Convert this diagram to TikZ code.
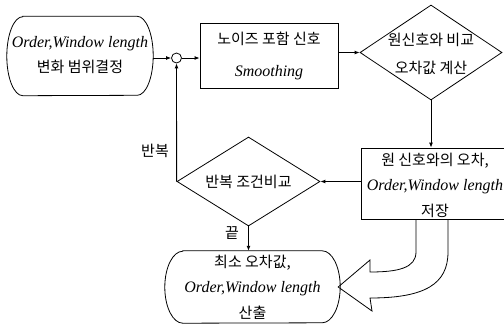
\documentclass[tikz,border=0pt]{standalone}
\usepackage{fontspec}
\setmainfont{Liberation Serif}
\newfontfamily\kr{Noto Sans CJK KR}
\newcommand{\K}[1]{{\kr\fontsize{15}{25}\selectfont #1}}
\newcommand{\Lt}[1]{{\itshape\fontsize{16}{25}\selectfont #1}}
\usetikzlibrary{shapes.geometric,arrows.meta}
\begin{document}
\begin{tikzpicture}[x=1pt,y=-1pt,
  shp/.style={draw,line width=0.8pt,inner sep=0pt},
  txt/.style={align=center,inner sep=0pt,font=\fontsize{15}{25.5}\selectfont},
  arr/.style={line width=0.9pt,-{Latex[length=5pt,width=4pt]}}]
\useasboundingbox (0,0) rectangle (504,327);
% terminal shapes with elliptic ends
\node[inner sep=0pt,minimum width=146pt,minimum height=79pt] (n1) at (80,56) {};
\draw[line width=0.8pt] ([xshift=16pt]n1.north west) -- ([xshift=-16pt]n1.north east)
  arc[start angle=90,end angle=-90,x radius=16pt,y radius=39.5pt]
  -- ([xshift=16pt]n1.south west)
  arc[start angle=-90,end angle=-270,x radius=16pt,y radius=39.5pt] -- cycle;
\node[txt] (t1) at (80,55) {\Lt{Order,Window length}\\\K{변화 범위결정}};
\node[shp,circle,minimum size=10pt] (c) at (176.5,58) {};
\node[shp,minimum width=138pt,minimum height=65pt] (b2) at (269,55.5) {};
\node[txt,font=\fontsize{15}{32}\selectfont] (t2) at (269,56) {\K{노이즈 포함 신호}\\\Lt{Smoothing}};
\node[shp,diamond,minimum width=142pt,minimum height=95pt] (d1) at (431,52.5) {};
\node[txt,font=\fontsize{15}{28}\selectfont] (t3) at (431,54) {\K{원신호와 비교}\\\K{오차값 계산}};
\node[shp,minimum width=145pt,minimum height=71pt] (b3) at (433.5,183.5) {};
\node[txt] (t4) at (435,185) {\K{원 신호와의 오차,}\\\Lt{Order,Window length}\\\K{저장}};
\node[shp,diamond,minimum width=143pt,minimum height=89pt] (d2) at (248.5,181.5) {};
\node[txt] (t5) at (248.5,181.5) {\K{반복 조건비교}};
\node[inner sep=0pt,minimum width=175pt,minimum height=72pt] (n4) at (252.5,287) {};
\draw[line width=0.8pt] ([xshift=18pt]n4.north west) -- ([xshift=-18pt]n4.north east)
  arc[start angle=90,end angle=-90,x radius=18pt,y radius=36pt]
  -- ([xshift=18pt]n4.south west)
  arc[start angle=-90,end angle=-270,x radius=18pt,y radius=36pt] -- cycle;
\node[txt] (t6) at (252.5,287) {\K{최소 오차값,}\\\Lt{Order,Window length}\\\K{산출}};
\node[txt] (l1) at (155,151) {\K{반복}};
\node[txt] (l2) at (232,233) {\K{끝}};
% connectors
\draw[arr] (c.west -| n1.east) -- (c.west);
\draw[arr] (c.east) -- (c.east -| b2.west);
\draw[arr] (d1.west -| b2.east) -- (d1.west);
\draw[arr] (d1.south) -- (d1.south |- b3.north);
\draw[arr] (d2.east -| b3.west) -- (d2.east);
\draw[arr] (d2.west) -- (c.south);
\draw[arr] (d2.south) -- (d2.south |- n4.north);
% block arrow
\coordinate (bi) at (416,219);
\coordinate (bo) at (448,219);
\coordinate (tip) at (n4.east);
\draw[line width=0.8pt,line join=miter]
  (bi) -- (416,252) .. controls (416,268) and (398,272) .. (370,272)
  -- (370,260) -- ([xshift=-2pt]tip) -- (372,311) -- (370,298)
  .. controls (425,298) and (448,284) .. (448,252) -- (bo);
\end{tikzpicture}
\end{document}
